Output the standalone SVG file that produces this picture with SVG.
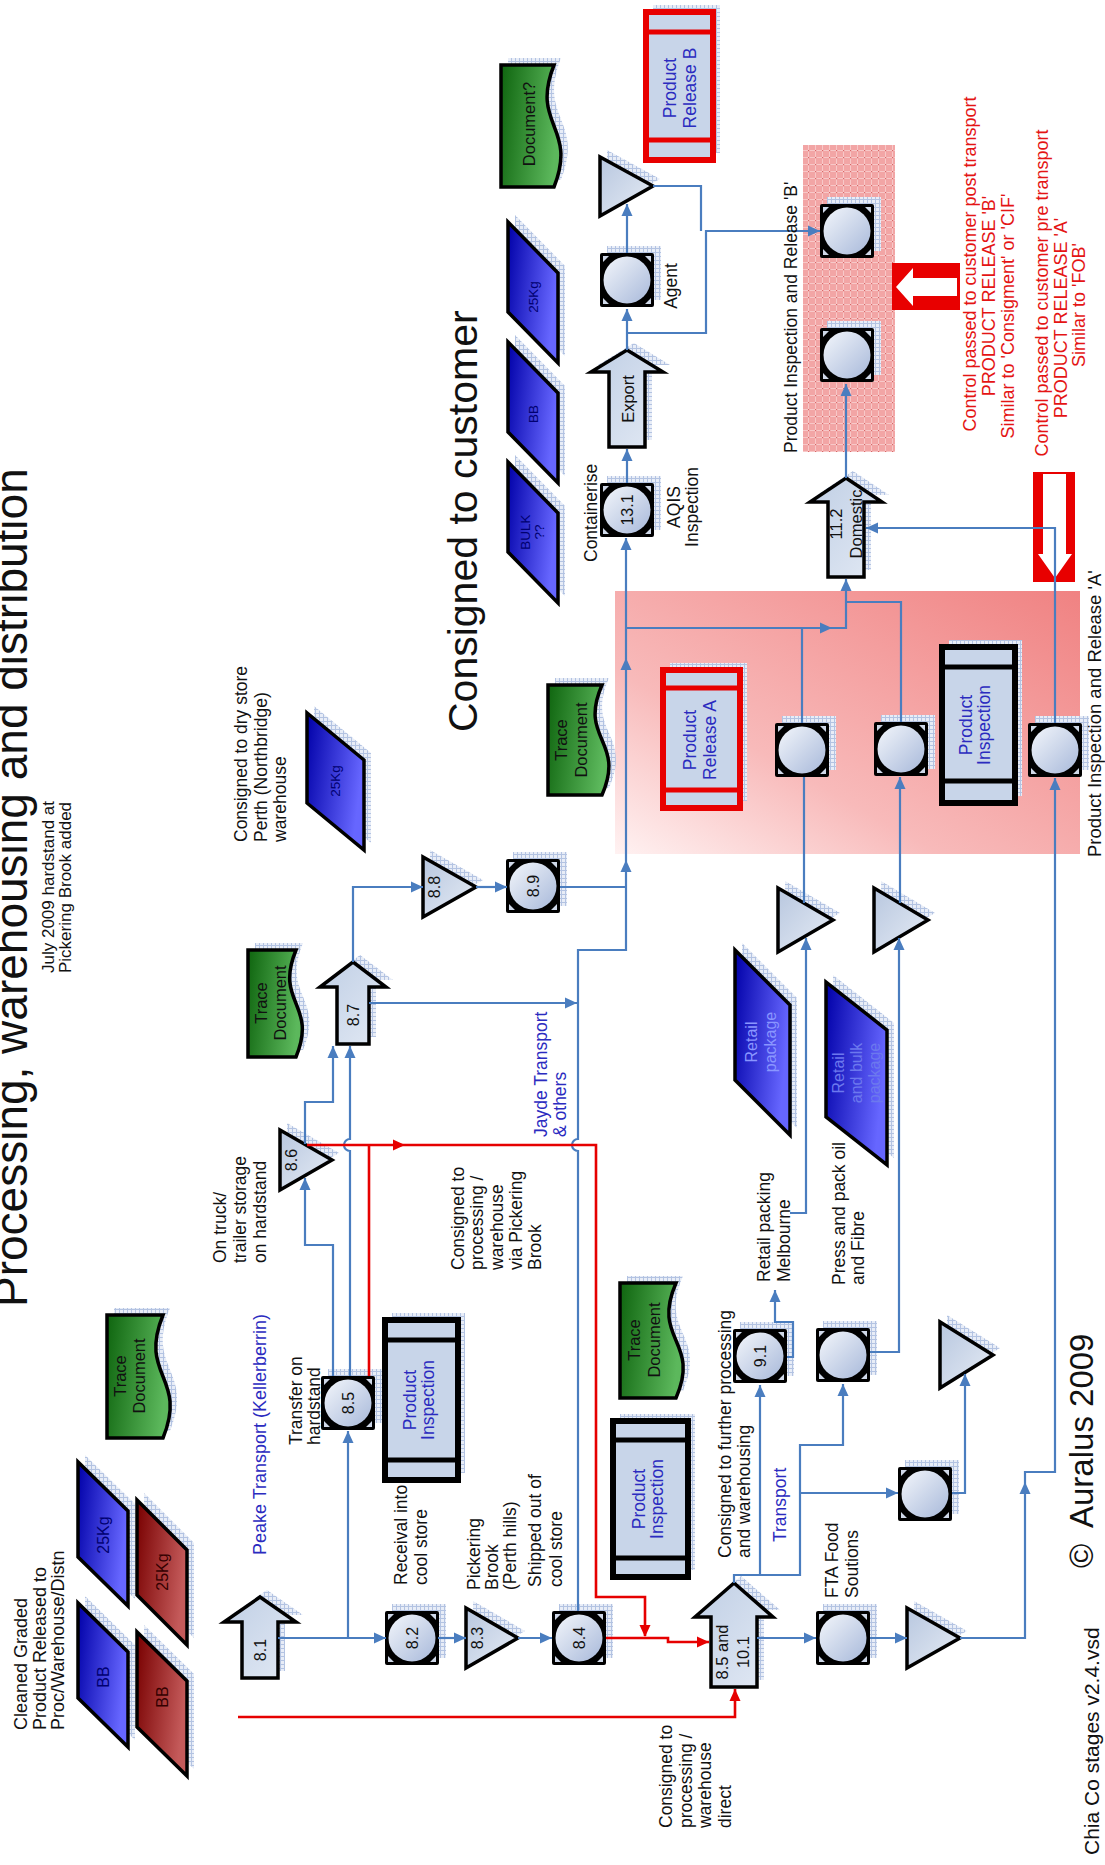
<svg xmlns="http://www.w3.org/2000/svg" xmlns:xlink="http://www.w3.org/1999/xlink" width="1105" height="1865" viewBox="0 0 1105 1865">
<defs>
<style>
text{font-family:"Liberation Sans",Arial,Helvetica,sans-serif;font-size:17.5px;fill:#111}
.c{text-anchor:middle}
.b{fill:#2b2bbf}
.r{fill:#e41414}
.n{font-size:16px}
.pt{font-size:13.5px;fill:#000070}
.pt2{font-size:16px;fill:#000070}
.ln{fill:none;stroke:#4a7dbf;stroke-width:2.2}
.rl{fill:none;stroke:#e60000;stroke-width:2.6}
.ab{fill:#4a7dbf}
.ar{fill:#e60000}
.k{stroke:#000;stroke-width:3.5;stroke-linejoin:miter}
.tri{fill:url(#gTri)}
.arw{fill:url(#gArr)}
.doc{fill:url(#gDoc)}
.pb{fill:url(#gPB)}
.pr{fill:url(#gPR)}
.sh{fill:url(#hat);stroke:none}
.bx{fill:#c8d5e9;stroke:#000;stroke-width:6}
.bxr{fill:#c8d5e9;stroke:#e80000;stroke-width:6}
.bar{stroke:#000;stroke-width:5;fill:none}
.barr{stroke:#e80000;stroke-width:5;fill:none}
</style>
<pattern id="hat" width="4" height="4" patternUnits="userSpaceOnUse"><rect width="4" height="4" fill="#e8edf7"/><path d="M0,.5H4M.5,0V4" stroke="#b3c3e2" stroke-width="1"/></pattern>
<pattern id="pink" width="7" height="7" patternUnits="userSpaceOnUse"><rect width="7" height="7" fill="#f2a5a5"/><path d="M0,3.5H7M3.5,0V7" stroke="#f9d0d0" stroke-width="0.8"/><rect x="3" y="3" width="1.2" height="1.2" fill="#d96666"/></pattern>
<linearGradient id="gA" x1="0" y1="1" x2="1" y2="0"><stop offset="0" stop-color="#fff2f2"/><stop offset="0.35" stop-color="#f8baba"/><stop offset="1" stop-color="#f08282"/></linearGradient>
<linearGradient id="gOp" x1="0" y1="0" x2="1" y2="1"><stop offset="0" stop-color="#f3f6fb"/><stop offset="1" stop-color="#a8b9da"/></linearGradient>
<linearGradient id="gTri" x1="0" y1="0" x2="1" y2="1"><stop offset="0" stop-color="#b8c7df"/><stop offset="1" stop-color="#e6ecf5"/></linearGradient>
<linearGradient id="gArr" x1="0" y1="0" x2="1" y2="1"><stop offset="0" stop-color="#c0cfe5"/><stop offset="1" stop-color="#e2e9f4"/></linearGradient>
<linearGradient id="gDoc" x1="0" y1="0" x2="1" y2="0.2"><stop offset="0" stop-color="#0f650f"/><stop offset="1" stop-color="#5cb85c"/></linearGradient>
<linearGradient id="gPB" x1="0" y1="0" x2="1" y2="0.3"><stop offset="0" stop-color="#0000a8"/><stop offset="1" stop-color="#6666ff"/></linearGradient>
<linearGradient id="gPR" x1="0" y1="0" x2="1" y2="0.3"><stop offset="0" stop-color="#780000"/><stop offset="1" stop-color="#c45a5a"/></linearGradient>
<path id="ah" d="M0,0 L-12,-5.5 L-12,5.5 Z"/>
<g id="op">
<rect class="sh" x="-20" y="-34" width="54" height="54"/>
<rect x="-27" y="-27" width="54" height="54" rx="2" fill="#000"/>
<circle r="23.5" fill="url(#gOp)"/>
<path d="M-24,-24h6l-6,6z M24,-24h-6l6,6z M-24,24h6l-6,-6z M24,24h-6l6,-6z" fill="#cfd8e8"/>
</g>
</defs>
<rect width="1105" height="1865" fill="#fff"/>

<g id="regions">
<rect id="region-A" x="615" y="591" width="465" height="263" fill="url(#gA)"/>
<rect id="region-B" x="803" y="145" width="92" height="307" fill="url(#pink)"/>
</g>

<g id="red-arrow-B">
<rect x="892" y="263" width="68" height="47" fill="#e80000"/>
<polygon points="896,287 913,268 913,278 957,278 957,296 913,296 913,306" fill="#fff"/>
</g>
<g id="red-arrow-A">
<rect x="1033" y="472" width="42" height="110" fill="#e80000"/>
<polygon points="1043,474 1066,474 1066,554 1072,554 1055,578 1038,554 1043,554" fill="#fff"/>
</g>

<g id="nodes">
<g id="doc-q"><path class="sh" transform="translate(7,-7)" d="M501,65 H554 C530,126 578,126 554,187 H501 Z"/><path class="doc k" d="M501,65 H554 C530,126 578,126 554,187 H501 Z"/><text class="c" transform="translate(535,124) rotate(-90)" style="font-size:16.5px">Document?</text></g>
<g id="release-B"><rect class="sh" x="653" y="5" width="67" height="148"/><rect class="bxr" x="646" y="12" width="67" height="148"/><path class="barr" d="M646,32H713M646,140H713"/><text class="c b" transform="translate(676,88) rotate(-90)"><tspan x="0">Product</tspan><tspan x="0" dy="20">Release B</tspan></text></g>
<g id="tri-top"><polygon class="sh" points="607,150 607,209 660,179"/><polygon class="tri k" points="600,157 600,216 653,186"/></g>
<g id="op-agent"><use xlink:href="#op" x="627" y="280"/></g>
<g id="arrow-export"><polygon class="sh" points="634,343 670,365 652,365 652,440 616,440 616,365 598,365"/><polygon class="arw k" points="627,350 663,372 645,372 645,447 609,447 609,372 591,372"/><text class="c" transform="translate(634,399) rotate(-90)" style="font-size:16.5px">Export</text></g>
<g id="op-13-1"><use xlink:href="#op" x="627" y="510"/><text class="c n" transform="translate(633,510) rotate(-90)">13.1</text></g>
<g id="para-25kg-top"><path class="sh" transform="translate(7,-7)" d="M508,222 V312 L558,363 V273 Z"/><path class="pb k" d="M508,222 V312 L558,363 V273 Z"/><text class="c pt" transform="translate(538,297) rotate(-90)">25Kg</text></g>
<g id="para-bb-top"><path class="sh" transform="translate(7,-7)" d="M508,342 V432 L558,483 V393 Z"/><path class="pb k" d="M508,342 V432 L558,483 V393 Z"/><text class="c pt" transform="translate(538,414) rotate(-90)">BB</text></g>
<g id="para-bulk"><path class="sh" transform="translate(7,-7)" d="M508,462 V552 L558,603 V513 Z"/><path class="pb k" d="M508,462 V552 L558,603 V513 Z"/><text class="c pt" transform="translate(530,532) rotate(-90)"><tspan x="0">BULK</tspan><tspan x="0" dy="14">??</tspan></text></g>
<g id="op-B1"><use xlink:href="#op" x="847" y="231"/></g>
<g id="op-B2"><use xlink:href="#op" x="847" y="355"/></g>
<g id="arrow-11-2"><polygon class="sh" points="853,471 889,495 871,495 871,570 835,570 835,495 817,495"/><polygon class="arw k" points="846,478 882,502 864,502 864,577 828,577 828,502 810,502"/><text class="c" transform="translate(842,524) rotate(-90)" style="font-size:16.5px"><tspan x="0">11.2</tspan><tspan x="0" dy="20">Domestic</tspan></text></g>
<g id="doc-trace-A"><path class="sh" transform="translate(7,-7)" d="M548,685 H602 C578,740 626,740 602,795 H548 Z"/><path class="doc k" d="M548,685 H602 C578,740 626,740 602,795 H548 Z"/><text class="c" transform="translate(567,740) rotate(-90)" style="font-size:16.5px"><tspan x="0">Trace</tspan><tspan x="0" dy="20">Document</tspan></text></g>
<g id="release-A"><rect class="sh" x="670" y="663" width="77" height="138"/><rect class="bxr" x="663" y="670" width="77" height="138"/><path class="barr" d="M663,688H740M663,790H740"/><text class="c b" transform="translate(696,740) rotate(-90)"><tspan x="0">Product</tspan><tspan x="0" dy="20">Release A</tspan></text></g>
<g id="op-A1"><use xlink:href="#op" x="802" y="750"/></g>
<g id="op-A2"><use xlink:href="#op" x="901" y="749"/></g>
<g id="insp-A"><rect class="sh" x="949" y="640" width="73" height="156"/><rect class="bx" x="942" y="647" width="73" height="156"/><path class="bar" d="M942,667H1015M942,781H1015"/><text class="c b" transform="translate(972,725) rotate(-90)"><tspan x="0">Product</tspan><tspan x="0" dy="18">Inspection</tspan></text></g>
<g id="op-A3"><use xlink:href="#op" x="1055" y="750"/></g>
<g id="tri-A1"><polygon class="sh" points="785,881 785,945 840,913"/><polygon class="tri k" points="778,888 778,952 833,920"/></g>
<g id="tri-A2"><polygon class="sh" points="881,881 881,945 935,913"/><polygon class="tri k" points="874,888 874,952 928,920"/></g>
<g id="para-retail"><path class="sh" transform="translate(7,-7)" d="M735,950 V1080 L790,1135 V1005 Z"/><path class="pb k" d="M735,950 V1080 L790,1135 V1005 Z"/><text class="c pt2" transform="translate(757,1042) rotate(-90)" style="fill:#8a96ff"><tspan x="0">Retail</tspan><tspan x="0" dy="19">package</tspan></text></g>
<g id="para-retail-bulk"><path class="sh" transform="translate(7,-7)" d="M826,982 V1117 L887,1165 V1030 Z"/><path class="pb k" d="M826,982 V1117 L887,1165 V1030 Z"/><text class="c pt2" transform="translate(844,1073) rotate(-90)" style="fill:#6c78ee"><tspan x="0">Retail</tspan><tspan x="0" dy="18">and bulk</tspan><tspan x="0" dy="18">package</tspan></text></g>
<g id="op-9-1"><use xlink:href="#op" x="760" y="1356"/><text class="c n" transform="translate(766,1356) rotate(-90)">9.1</text></g>
<g id="op-press"><use xlink:href="#op" x="843" y="1355"/></g>
<g id="tri-low"><polygon class="sh" points="947,1315 947,1381 1000,1348"/><polygon class="tri k" points="940,1322 940,1388 993,1355"/></g>
<g id="op-x"><use xlink:href="#op" x="925" y="1494"/></g>
<g id="op-fta"><use xlink:href="#op" x="843" y="1638"/></g>
<g id="tri-bot"><polygon class="sh" points="914,1601 914,1661 967,1631"/><polygon class="tri k" points="907,1608 907,1668 960,1638"/></g>
<g id="arrow-10-1"><polygon class="sh" points="741,1576 780,1610 764,1610 764,1680 718,1680 718,1610 702,1610"/><polygon class="arw k" points="734,1583 773,1617 757,1617 757,1687 711,1687 711,1617 695,1617"/><text class="c" transform="translate(728,1652) rotate(-90)" style="font-size:16.5px"><tspan x="0">8.5 and</tspan><tspan x="0" dy="21">10.1</tspan></text></g>
<g id="insp-low"><rect class="sh" x="620" y="1414" width="75" height="156"/><rect class="bx" x="613" y="1421" width="75" height="156"/><path class="bar" d="M613,1440H688M613,1558H688"/><text class="c b" transform="translate(645,1499) rotate(-90)"><tspan x="0">Product</tspan><tspan x="0" dy="18">Inspection</tspan></text></g>
<g id="doc-trace-low"><path class="sh" transform="translate(7,-7)" d="M620,1283 H676 C651,1340.5 701,1340.5 676,1398 H620 Z"/><path class="doc k" d="M620,1283 H676 C651,1340.5 701,1340.5 676,1398 H620 Z"/><text class="c" transform="translate(640,1340) rotate(-90)" style="font-size:16.5px"><tspan x="0">Trace</tspan><tspan x="0" dy="20">Document</tspan></text></g>
<g id="op-8-4"><use xlink:href="#op" x="579" y="1638"/><text class="c n" transform="translate(585,1638) rotate(-90)">8.4</text></g>
<g id="tri-8-3"><polygon class="sh" points="473,1601 473,1661 525,1631"/><polygon class="tri k" points="466,1608 466,1668 518,1638"/><text class="c n" transform="translate(483,1638) rotate(-90)">8.3</text></g>
<g id="op-8-2"><use xlink:href="#op" x="412" y="1638"/><text class="c n" transform="translate(418,1638) rotate(-90)">8.2</text></g>
<g id="arrow-8-1"><polygon class="sh" points="267,1590 303,1615 285,1615 285,1671 249,1671 249,1615 231,1615"/><polygon class="arw k" points="260,1597 296,1622 278,1622 278,1678 242,1678 242,1622 224,1622"/><text class="c n" transform="translate(266,1650) rotate(-90)">8.1</text></g>
<g id="insp-mid"><rect class="sh" x="392" y="1313" width="73" height="160"/><rect class="bx" x="385" y="1320" width="73" height="160"/><path class="bar" d="M385,1340H458M385,1460H458"/><text class="c b" transform="translate(416,1400) rotate(-90)"><tspan x="0">Product</tspan><tspan x="0" dy="18">Inspection</tspan></text></g>
<g id="op-8-5"><use xlink:href="#op" x="348" y="1403"/><text class="c n" transform="translate(354,1403) rotate(-90)">8.5</text></g>
<g id="tri-8-6"><polygon class="sh" points="287,1123 287,1183 339,1153"/><polygon class="tri k" points="280,1130 280,1190 332,1160"/><text class="c n" transform="translate(297,1160) rotate(-90)">8.6</text></g>
<g id="arrow-8-7"><polygon class="sh" points="360,955 393,980 376,980 376,1037 344,1037 344,980 327,980"/><polygon class="arw k" points="353,962 386,987 369,987 369,1044 337,1044 337,987 320,987"/><text class="c n" transform="translate(359,1015) rotate(-90)">8.7</text></g>
<g id="doc-trace-87"><path class="sh" transform="translate(7,-7)" d="M248,950 H296 C274,1003.5 318,1003.5 296,1057 H248 Z"/><path class="doc k" d="M248,950 H296 C274,1003.5 318,1003.5 296,1057 H248 Z"/><text class="c" transform="translate(267,1003) rotate(-90)" style="font-size:16.5px"><tspan x="0">Trace</tspan><tspan x="0" dy="19">Document</tspan></text></g>
<g id="tri-8-8"><polygon class="sh" points="430,850 430,910 483,880"/><polygon class="tri k" points="423,857 423,917 476,887"/><text class="c n" transform="translate(440,887) rotate(-90)">8.8</text></g>
<g id="op-8-9"><use xlink:href="#op" x="533" y="886"/><text class="c n" transform="translate(539,886) rotate(-90)">8.9</text></g>
<g id="para-25kg-mid"><path class="sh" transform="translate(7,-7)" d="M307,713 V803 L364,850 V760 Z"/><path class="pb k" d="M307,713 V803 L364,850 V760 Z"/><text class="c pt" transform="translate(340,781) rotate(-90)">25Kg</text></g>
<g id="doc-trace-TL"><path class="sh" transform="translate(7,-7)" d="M107,1315 H163 C138,1376.5 188,1376.5 163,1438 H107 Z"/><path class="doc k" d="M107,1315 H163 C138,1376.5 188,1376.5 163,1438 H107 Z"/><text class="c" transform="translate(126,1376) rotate(-90)" style="font-size:16.5px"><tspan x="0">Trace</tspan><tspan x="0" dy="19">Document</tspan></text></g>
<g id="para-25kg-blue"><path class="sh" transform="translate(7,-7)" d="M78,1462 V1557 L128,1606 V1511 Z"/><path class="pb k" d="M78,1462 V1557 L128,1606 V1511 Z"/><text class="c pt2" transform="translate(109,1535) rotate(-90)">25Kg</text></g>
<g id="para-bb-blue"><path class="sh" transform="translate(7,-7)" d="M78,1603 V1698 L128,1747 V1652 Z"/><path class="pb k" d="M78,1603 V1698 L128,1747 V1652 Z"/><text class="c pt2" transform="translate(109,1677) rotate(-90)">BB</text></g>
<g id="para-25kg-red"><path class="sh" transform="translate(7,-7)" d="M137,1500 V1595 L187,1645 V1550 Z"/><path class="pr k" d="M137,1500 V1595 L187,1645 V1550 Z"/><text class="c pt2" transform="translate(168,1572) rotate(-90)" style="fill:#300">25Kg</text></g>
<g id="para-bb-red"><path class="sh" transform="translate(7,-7)" d="M137,1632 V1727 L187,1776 V1681 Z"/><path class="pr k" d="M137,1632 V1727 L187,1776 V1681 Z"/><text class="c pt2" transform="translate(168,1697) rotate(-90)" style="fill:#300">BB</text></g>
</g>

<g id="connectors">
<path class="ln" d="M278,1638 H386"/>
<path class="ln" d="M348,1638 V1431"/>
<path class="ln" d="M438,1638 H466"/>
<path class="ln" d="M518,1638 H552"/>
<path class="ln" d="M578,1611 V1151 A6,6 0 0 1 578,1139 V950 H626 V538"/>
<path class="ln" d="M369,1003 H577"/>
<path class="ln" d="M353,962 V887 H423"/>
<path class="ln" d="M476,887 H507"/>
<path class="ln" d="M560,887 H626"/>
<path class="ln" d="M333,1376 V1245 H305 V1178"/>
<path class="ln" d="M305,1144 V1102 H333 V1046"/>
<path class="ln" d="M350,1376 V1151 A6,6 0 0 1 350,1139 V1046"/>
<path class="ln" d="M734,1583 V1575 H760 V1385"/>
<path class="ln" d="M760,1575 H800 V1445 H843 V1384"/>
<path class="ln" d="M800,1493 H898"/>
<path class="ln" d="M757,1638 H816"/>
<path class="ln" d="M870,1638 H907"/>
<path class="ln" d="M960,1638 H1025 V1472 H1055 V778"/>
<path class="ln" d="M1055,723 V528 H866"/>
<path class="ln" d="M952,1493 H965 V1374"/>
<path class="ln" d="M870,1352 H899 V938"/>
<path class="ln" d="M900,903 V777"/>
<path class="ln" d="M901,722 V602 H846"/>
<path class="ln" d="M787,1357 H793 V1322 H775 V1290"/>
<path class="ln" d="M790,1213 H806 V938"/>
<path class="ln" d="M804,903 V777"/>
<path class="ln" d="M802,723 V628"/>
<path class="ln" d="M626,628 H846 V579"/>
<path class="ln" d="M846,478 V384"/>
<path class="ln" d="M627,483 V449"/>
<path class="ln" d="M627,350 V309"/>
<path class="ln" d="M627,253 V204"/>
<path class="ln" d="M627,333 H706 V231 H820"/>
<path class="ln" d="M653,186 H701 V231"/>
<path class="rl" d="M307,1145 H596 V1597 H645 V1636"/>
<path class="rl" d="M369,1376 V1145"/>
<path class="rl" d="M606,1638 H668 V1642 H709"/>
<path class="rl" d="M238,1717 H735 V1689"/>
<g class="ab">
<use xlink:href="#ah" transform="translate(386,1638)"/>
<use xlink:href="#ah" transform="translate(348,1431) rotate(-90)"/>
<use xlink:href="#ah" transform="translate(466,1638)"/>
<use xlink:href="#ah" transform="translate(552,1638)"/>
<use xlink:href="#ah" transform="translate(626,538) rotate(-90)"/>
<use xlink:href="#ah" transform="translate(626,860) rotate(-90)"/>
<use xlink:href="#ah" transform="translate(626,658) rotate(-90)"/>
<use xlink:href="#ah" transform="translate(577,1003)"/>
<use xlink:href="#ah" transform="translate(423,887)"/>
<use xlink:href="#ah" transform="translate(507,887)"/>
<use xlink:href="#ah" transform="translate(305,1178) rotate(-90)"/>
<use xlink:href="#ah" transform="translate(333,1046) rotate(-90)"/>
<use xlink:href="#ah" transform="translate(350,1046) rotate(-90)"/>
<use xlink:href="#ah" transform="translate(760,1385) rotate(-90)"/>
<use xlink:href="#ah" transform="translate(843,1384) rotate(-90)"/>
<use xlink:href="#ah" transform="translate(898,1493)"/>
<use xlink:href="#ah" transform="translate(816,1638)"/>
<use xlink:href="#ah" transform="translate(907,1638)"/>
<use xlink:href="#ah" transform="translate(1025,1482) rotate(-90)"/>
<use xlink:href="#ah" transform="translate(1055,778) rotate(-90)"/>
<use xlink:href="#ah" transform="translate(866,528) rotate(180)"/>
<use xlink:href="#ah" transform="translate(965,1374) rotate(-90)"/>
<use xlink:href="#ah" transform="translate(899,938) rotate(-90)"/>
<use xlink:href="#ah" transform="translate(900,777) rotate(-90)"/>
<use xlink:href="#ah" transform="translate(775,1290) rotate(-90)"/>
<use xlink:href="#ah" transform="translate(806,938) rotate(-90)"/>
<use xlink:href="#ah" transform="translate(832,628)"/>
<use xlink:href="#ah" transform="translate(846,579) rotate(-90)"/>
<use xlink:href="#ah" transform="translate(846,384) rotate(-90)"/>
<use xlink:href="#ah" transform="translate(627,449) rotate(-90)"/>
<use xlink:href="#ah" transform="translate(627,309) rotate(-90)"/>
<use xlink:href="#ah" transform="translate(627,204) rotate(-90)"/>
<use xlink:href="#ah" transform="translate(820,231)"/>
</g>
<g class="ar">
<use xlink:href="#ah" transform="translate(405,1145)"/>
<use xlink:href="#ah" transform="translate(645,1637) rotate(90)"/>
<use xlink:href="#ah" transform="translate(709,1642)"/>
<use xlink:href="#ah" transform="translate(735,1689) rotate(-90)"/>
</g>
</g>

<g id="labels">
<text transform="translate(27,1307) rotate(-90)" style="font-size:46px">Processing, warehousing and distribution</text>
<text transform="translate(477,732) rotate(-90)" style="font-size:41px">Consigned to customer</text>
<text transform="translate(54,973) rotate(-90)" style="font-size:17px"><tspan x="0">July 2009 hardstand at</tspan><tspan x="0" dy="17">Pickering Brook added</tspan></text>
<text transform="translate(27,1730) rotate(-90)" style="font-size:18px"><tspan x="0">Cleaned Graded</tspan><tspan x="0" dy="18.5">Product Released to</tspan><tspan x="0" dy="18.5">Proc/Warehouse/Distn</tspan></text>
<text class="b" transform="translate(266,1555) rotate(-90)" style="font-size:18px">Peake Transport (Kellerberrin)</text>
<text transform="translate(302,1445) rotate(-90)"><tspan x="0">Transfer on</tspan><tspan x="0" dy="18">hardstand</tspan></text>
<text transform="translate(407,1585) rotate(-90)"><tspan x="0">Receival into</tspan><tspan x="0" dy="20">cool store</tspan></text>
<text transform="translate(480,1590) rotate(-90)"><tspan x="0">Pickering</tspan><tspan x="0" dy="18">Brook</tspan><tspan x="0" dy="18">(Perth hills)</tspan></text>
<text transform="translate(541,1587) rotate(-90)"><tspan x="0">Shipped out of</tspan><tspan x="0" dy="21">cool store</tspan></text>
<text transform="translate(226,1263) rotate(-90)"><tspan x="0">On truck/</tspan><tspan x="0" dy="20">trailer storage</tspan><tspan x="0" dy="20">on hardstand</tspan></text>
<text transform="translate(464,1270) rotate(-90)"><tspan x="0">Consigned to</tspan><tspan x="0" dy="19.3">processing /</tspan><tspan x="0" dy="19.3">warehouse</tspan><tspan x="0" dy="19.3">via Pickering</tspan><tspan x="0" dy="19.3">Brook</tspan></text>
<text class="b" transform="translate(547,1137) rotate(-90)"><tspan x="0">Jayde Transport</tspan><tspan x="0" dy="19">&amp; others</tspan></text>
<text transform="translate(247,842) rotate(-90)"><tspan x="0">Consigned to dry store</tspan><tspan x="0" dy="19.5">Perth (Northbridge)</tspan><tspan x="0" dy="19.5">warehouse</tspan></text>
<text transform="translate(597,562) rotate(-90)">Containerise</text>
<text class="c" transform="translate(680,507) rotate(-90)"><tspan x="0">AQIS</tspan><tspan x="0" dy="18">Inspection</tspan></text>
<text class="c" transform="translate(677,286) rotate(-90)">Agent</text>
<text transform="translate(770,1282) rotate(-90)"><tspan x="0">Retail packing</tspan><tspan x="0" dy="20">Melbourne</tspan></text>
<text transform="translate(845,1285) rotate(-90)"><tspan x="0">Press and pack oil</tspan><tspan x="0" dy="18.5">and Fibre</tspan></text>
<text transform="translate(731,1558) rotate(-90)"><tspan x="0">Consigned to further processing</tspan><tspan x="0" dy="19">and warehousing</tspan></text>
<text class="b" transform="translate(786,1542) rotate(-90)">Transport</text>
<text transform="translate(838,1598) rotate(-90)"><tspan x="0">FTA Food</tspan><tspan x="0" dy="20">Soutions</tspan></text>
<text transform="translate(672,1828) rotate(-90)"><tspan x="0">Consigned to</tspan><tspan x="0" dy="19.6">processing /</tspan><tspan x="0" dy="19.6">warehouse</tspan><tspan x="0" dy="19.6">direct</tspan></text>
<text transform="translate(1093,1568) rotate(-90)" style="font-size:33px">©</text>
<text transform="translate(1093,1528) rotate(-90)" style="font-size:33px">Auralus 2009</text>
<text transform="translate(1099,1855) rotate(-90)" style="font-size:21px">Chia Co stages v2.4.vsd</text>
<text transform="translate(797,453) rotate(-90)">Product Inspection and Release 'B'</text>
<text transform="translate(1101,857) rotate(-90)" style="font-size:18.5px">Product Inspection and Release 'A'</text>
<text class="c r" transform="translate(976,264) rotate(-90)" style="font-size:18px">Control passed to customer post transport</text>
<text class="c r" transform="translate(995,296) rotate(-90)" style="font-size:18px">PRODUCT RELEASE 'B'</text>
<text class="c r" transform="translate(1014,316) rotate(-90)" style="font-size:18px">Similar to 'Consigment' or 'CIF'</text>
<text class="c r" transform="translate(1048,293) rotate(-90)" style="font-size:18px">Control passed to customer pre transport</text>
<text class="c r" transform="translate(1067,318) rotate(-90)" style="font-size:18px">PRODUCT RELEASE 'A'</text>
<text class="c r" transform="translate(1085,305) rotate(-90)" style="font-size:18px">Similar to 'FOB'</text>
</g>
</svg>
